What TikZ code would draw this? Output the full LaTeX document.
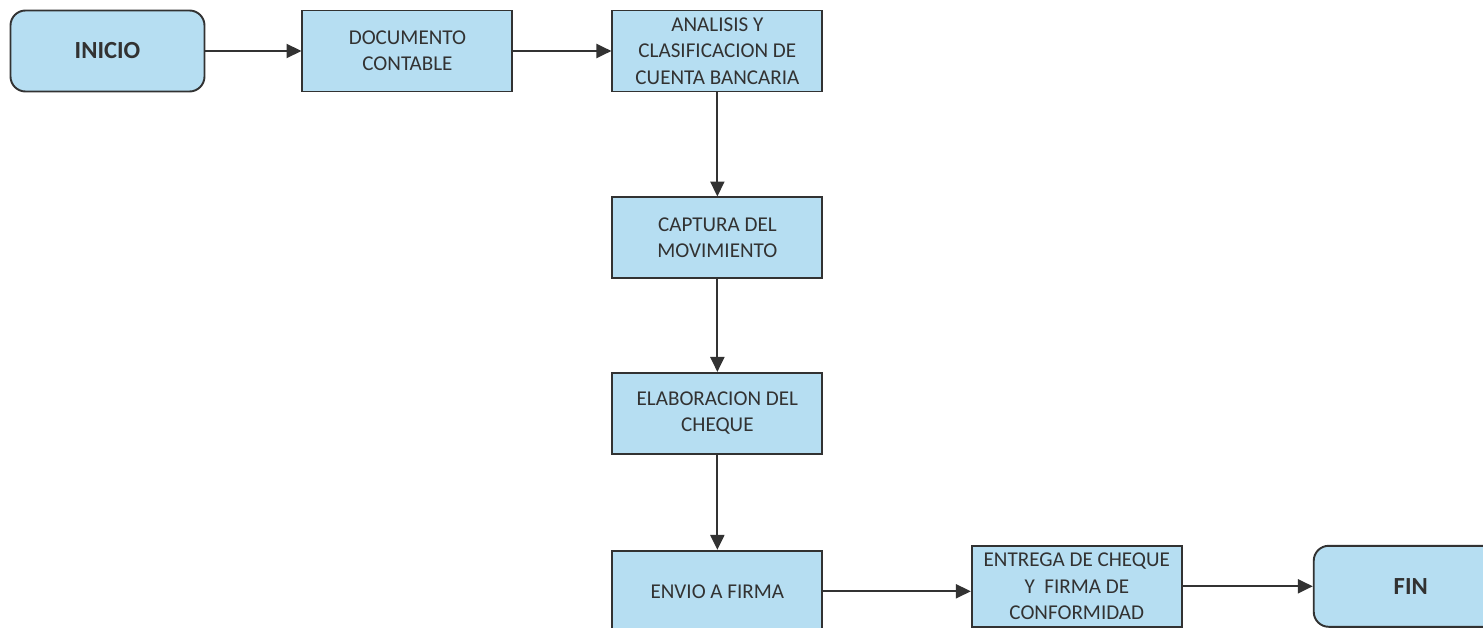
\documentclass[tikz,border=0pt]{standalone}
\usepackage{fontspec}
\setmainfont{Carlito}
\usepackage{tikz}
\usetikzlibrary{arrows.meta}
\usetikzlibrary{positioning}

\definecolor{boxblue}{RGB}{182,222,242}
\definecolor{linegray}{RGB}{50,50,50}

\begin{document}
\begin{tikzpicture}[
    proc/.style={rectangle, draw=linegray, line width=1.1pt, fill=boxblue, text=linegray,
        minimum width=4.2cm, minimum height=1.62cm, align=center, font=\fontsize{12}{15}\selectfont},
    term/.style={proc, rounded corners=0.3cm, minimum width=3.88cm, font=\fontsize{14}{16}\selectfont\bfseries},
    flow/.style={-{Triangle[length=8.5pt, width=8pt]}, line width=1.1pt, draw=linegray}]
    \useasboundingbox (0,0) rectangle (29.66,-12.56);

    \node[term] (inicio) at (2.15,-1.02) {INICIO};
    \node[proc] (doc) [right=1.92cm of inicio] {DOCUMENTO\\CONTABLE};
    \node[proc] (analisis) [right=1.96cm of doc] {ANALISIS Y\\CLASIFICACION DE\\CUENTA BANCARIA};
    \node[proc] (captura) [below=2.08cm of analisis] {CAPTURA DEL\\MOVIMIENTO};
    \node[proc] (cheque) [below=1.85cm of captura] {ELABORACION DEL\\CHEQUE};
    \node[proc] (envio) [below=1.9cm of cheque] {ENVIO A FIRMA};
    \node[proc] (entrega) [right=2.95cm of envio, yshift=0.1cm] {ENTREGA DE CHEQUE\\Y\ \ FIRMA DE\\CONFORMIDAD};
    \node[term] (fin) [right=2.6cm of entrega] {FIN};

    \draw[flow] (inicio) -- (doc);
    \draw[flow] (doc) -- (analisis);
    \draw[flow] (analisis) -- (captura);
    \draw[flow] (captura) -- (cheque);
    \draw[flow] (cheque) -- (envio);
    \draw[flow] (envio) -- (entrega.west |- envio);
    \draw[flow] (entrega) -- (fin);
\end{tikzpicture}
\end{document}
